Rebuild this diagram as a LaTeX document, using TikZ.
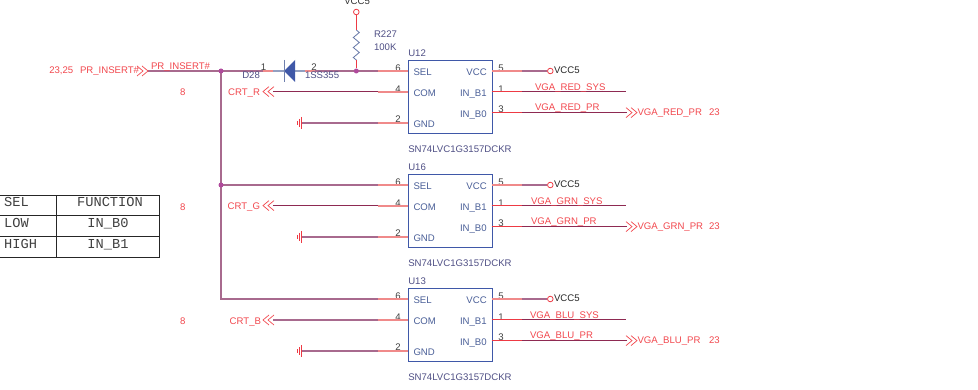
\documentclass[tikz,border=0pt]{standalone}
\usepackage{fontspec}
\setmainfont{Liberation Sans}
\newfontfamily\tblfont{Liberation Mono}
\usetikzlibrary{calc}
\definecolor{netred}{HTML}{F2484E}
\definecolor{pinblue}{HTML}{4A5F98}
\definecolor{partblue}{HTML}{4F4F85}
\definecolor{stub}{HTML}{F08A8A}
\definecolor{stubred}{HTML}{EE3A44}
\definecolor{wiremauve}{HTML}{A86A8E}
\definecolor{wiredark}{HTML}{8E2A52}
\definecolor{boxblue}{HTML}{3F58A8}
\definecolor{dot}{HTML}{B04A9C}
\tikzset{
  txt/.style={font=\fontsize{9.6}{11}\selectfont,inner sep=0pt,outer sep=0pt},
  netlab/.style={txt,text=netred,anchor=base west},
  netlabr/.style={txt,text=netred,anchor=base east},
  pinlab/.style={txt,text=pinblue,anchor=base west},
  pinlabr/.style={txt,text=pinblue,anchor=base east},
  partlab/.style={txt,text=partblue,anchor=base west},
  pinnum/.style={txt,text=black!75,anchor=base},
  chipbox/.style={draw=boxblue,line width=1pt,minimum width=83.4pt,minimum height=73pt,anchor=north west,inner sep=0pt},
  wirethick/.style={draw=wiremauve,line width=1.6pt},
  wirethin/.style={draw=wiredark,line width=1pt},
  stubline/.style={draw=stub,line width=1.6pt},
  stubthin/.style={draw=stubred,line width=1pt},
  junction/.style={circle,fill=dot,inner sep=0pt,minimum size=5pt},
  pwr/.style={circle,draw=stubred,line width=0.8pt,inner sep=0pt,minimum size=5.6pt},
  chev/.style={draw=netred,line width=0.7pt},
  gndbar/.style={draw=stubred,line width=0.7pt},
  tcell/.style={font=\tblfont\fontsize{13.7}{14}\selectfont,text=black!75,inner sep=0pt},
  trule/.style={draw=black!85,line width=1pt},
}
% chevrons: tip at #1, opening to the right (#2=1) or to the left (#2=-1)
\newcommand{\chevrons}[2]{%
  \draw[chev] ($(#1)+(#2*6,-5)$) -- (#1) -- ($(#1)+(#2*6,5)$);
  \draw[chev] ($(#1)+(#2*11,-5)$) -- ($(#1)+(#2*5,0)$) -- ($(#1)+(#2*11,5)$);
}
% #1 name, #2 SEL y, #3 colour word, #4 x of B labels
\newcommand{\chip}[4]{%
  \node[chipbox] (#1) at (408.3,#2-11.2) {};
  \coordinate (#1sel) at (408.3,#2);
  \coordinate (#1com) at (408.3,#2+21);
  \coordinate (#1gnd) at (408.3,#2+52);
  \coordinate (#1vcc) at (491.7,#2);
  \coordinate (#1bone) at (491.7,#2+20.6);
  \coordinate (#1bzero) at (491.7,#2+41.6);
  \node[partlab] (#1name) at (408.3,#2-14.3) {#1};
  \node[partlab] (#1part) at (408.3,#2+81.7) {SN74LVC1G3157DCKR};
  \node[pinlab] (#1tsel) at (413.5,#2+4.7) {SEL};
  \node[pinlab] (#1tcom) at (413.5,#2+25.7) {COM};
  \node[pinlab] (#1tgnd) at (413.5,#2+56.7) {GND};
  \node[pinlabr] (#1tvcc) at (486.7,#2+4.7) {VCC};
  \node[pinlabr] (#1tbone) at (486.7,#2+25.7) {IN\_B1};
  \node[pinlabr] (#1tbzero) at (486.7,#2+46.7) {IN\_B0};
  \node[pinnum] (#1nsel) at (398,#2+.3) {6};
  \node[pinnum] (#1ncom) at (398,#2+21.3) {4};
  \node[pinnum] (#1ngnd) at (398,#2+52) {2};
  \node[pinnum] (#1nvcc) at (501,#2+.3) {5};
  \node[pinnum] (#1nbone) at (501,#2+21.3) {1};
  \node[pinnum] (#1nbzero) at (501,#2+41.9) {3};
  \coordinate (#1selw) at (378,#2);
  \coordinate (#1comw) at (378,#2+21);
  \coordinate (#1comt) at (378,#2+20.6);
  \coordinate (#1gndw) at (378,#2+52);
  \coordinate (#1vccw) at (522,#2);
  \coordinate (#1bonew) at (522,#2+20.6);
  \coordinate (#1bzerow) at (522,#2+41.6);
  \draw[stubline] (#1selw) -- (#1sel);
  \draw[stubline] (#1comw) -- (#1com);
  \draw[stubline] (#1gndw) -- (#1gnd);
  \draw[stubline] (#1vcc) -- (#1vccw);
  \draw[stubthin] (#1bone) -- (#1bonew);
  \draw[stubthin] (#1bzero) -- (#1bzerow);
  \node[pwr] (#1pwr) at (550.3,#2) {};
  \draw[wirethick] (#1vccw) -- (#1pwr);
  \node[txt,text=black!85,anchor=base west] (#1vcctxt) at (554,#2+2.7) {VCC5};
  \coordinate (#1bend) at (626,#2+20.6);
  \coordinate (#1zend) at (627,#2+41.6);
  \coordinate (#1ztip) at (637,#2+41.6);
  \draw[wirethin] (#1bonew) -- (#1bend);
  \draw[wirethin] (#1bzerow) -- (#1zend);
  \chevrons{#1ztip}{-1}
  \node[netlab] (#1sys) at (#4,#2+19.7) {VGA\_#3\_SYS};
  \node[netlab] (#1pr) at (#4,#2+39.7) {VGA\_#3\_PR};
  \node[netlab] (#1off) at (637.5,#2+44.7) {VGA\_#3\_PR};
  \node[netlab] (#1pg) at (709,#2+44.7) {23};
  \coordinate (#1earth) at (301.7,#2+52);
  \draw[wirethick] (#1gndw) -- (#1earth);
  \draw[gndbar] ($(#1earth)+(0,-6)$) -- ($(#1earth)+(0,6)$);
  \draw[gndbar] ($(#1earth)+(-2.3,-4)$) -- ($(#1earth)+(-2.3,4)$);
  \draw[gndbar] ($(#1earth)+(-4.5,-2)$) -- ($(#1earth)+(-4.5,2)$);
}
\begin{document}
\begin{tikzpicture}[x=1pt,y=-1pt]
\useasboundingbox (0,0) rectangle (978,390);
\fill[white] (0,0) rectangle (978,390);

\chip{U12}{71}{RED}{535}
\chip{U16}{185}{GRN}{531}
\chip{U13}{299}{BLU}{530}

% top net
\coordinate (prstart) at (148,71);
\coordinate (j1c) at (221,71);
\coordinate (j2c) at (356.3,71);
\coordinate (j3c) at (221,185);
\coordinate (pinA) at (263,71);
\coordinate (pinB) at (273,71);
\coordinate (diodeA) at (284,71);
\coordinate (diodeB) at (295,71);
\coordinate (pinC) at (305,71);
\coordinate (pinD) at (315,71);
\coordinate (corner) at (221,299);
\draw[wirethick] (prstart) -- (j1c) -- (pinA);
\draw[stubline] (pinA) -- (pinB);
\draw[draw=pinblue!60,line width=1.4pt] (pinB) -- (diodeA);
\draw[draw=pinblue!60,line width=1.4pt] (diodeB) -- (pinC);
\draw[stubline] (pinC) -- (pinD);
\draw[wirethick] (pinD) -- (j2c) -- (U12selw);
\draw[wirethick] (j1c) -- (j3c) -- (corner) -- (U13selw);
\draw[wirethick] (j3c) -- (U16selw);
\node[junction] (j1) at (j1c) {};
\node[junction] (j2) at (j2c) {};
\node[junction] (j3) at (j3c) {};

% diode
\fill[boxblue] (diodeA) -- (295,60) -- (295,82) -- cycle;
\draw[draw=pinblue!80,line width=1pt] (284,60) -- (284,82);
\node[txt,text=partblue,anchor=base west] (d28) at (242.3,79) {D28};
\node[txt,text=partblue,anchor=base west] (dval) at (305,79) {1SS355};
\node[pinnum] (dp1) at (263.5,71) {1};
\node[pinnum] (dp2) at (314,71) {2};

% pull-up
\node[pwr] (vtop) at (356.3,12) {};
\coordinate (ra) at (356.3,30);
\coordinate (rb) at (356.3,60);
\draw[draw=stubred,line width=1pt] (vtop) -- (ra);
\draw[draw=pinblue!85,line width=0.8pt] (ra) -- ++(3,2.5) -- ++(-6,5) -- ++(6,5) -- ++(-6,5) -- ++(6,5) -- ++(-6,5) -- (rb);
\draw[draw=stubred,line width=1pt] (rb) -- (j2);
\node[txt,text=black!80,anchor=base west] (vccTop) at (344.3,5) {VCC5};
\node[txt,text=partblue,anchor=base west] (rname) at (374,38) {R227};
\node[txt,text=partblue,anchor=base west] (rval) at (374,50.5) {100K};

% PR_INSERT labels
\coordinate (prtip) at (148,71);
\chevrons{prtip}{-1}
\node[netlab] (pr1) at (49.3,73.7) {23,25};
\node[netlab] (pr2) at (80,73.7) {PR\_INSERT\#};
\node[netlab] (pr3) at (151,69.7) {PR\_INSERT\#};

% CRT nets
\coordinate (crtr) at (263,91.6);
\coordinate (crtg) at (263,205.6);
\coordinate (crtb) at (263,320);
\draw[wirethin] (U12comt) -- ($(crtr)+(10,0)$);
\draw[wirethin] (U16comt) -- ($(crtg)+(10,0)$);
\draw[wirethick] (U13comw) -- ($(crtb)+(10,0)$);
\chevrons{crtr}{1}
\chevrons{crtg}{1}
\chevrons{crtb}{1}
\node[netlabr] (crtrt) at (260,95.5) {CRT\_R};
\node[netlabr] (crtgt) at (260,210) {CRT\_G};
\node[netlabr] (crtbt) at (261,324.5) {CRT\_B};
\node[netlab,anchor=base] (s1) at (182.7,95.5) {8};
\node[netlab,anchor=base] (s2) at (182.7,210.5) {8};
\node[netlab,anchor=base] (s3) at (182.7,324.5) {8};

% table
\draw[trule] (0,195.5) -- (159.5,195.5) -- (159.5,257.5) -- (0,257.5);
\draw[trule] (0,216) -- (159.5,216);
\draw[trule] (0,237) -- (159.5,237);
\draw[trule] (56,195.5) -- (56,257.5);
\node[tcell,anchor=base west] (t1) at (4,206.5) {SEL};
\node[tcell,anchor=base] (t2) at (110,206.5) {FUNCTION};
\node[tcell,anchor=base west] (t3) at (4,227.5) {LOW};
\node[tcell,anchor=base] (t4) at (108,227.5) {IN\_B0};
\node[tcell,anchor=base west] (t5) at (4,248.5) {HIGH};
\node[tcell,anchor=base] (t6) at (108,248.5) {IN\_B1};
\end{tikzpicture}
\end{document}
